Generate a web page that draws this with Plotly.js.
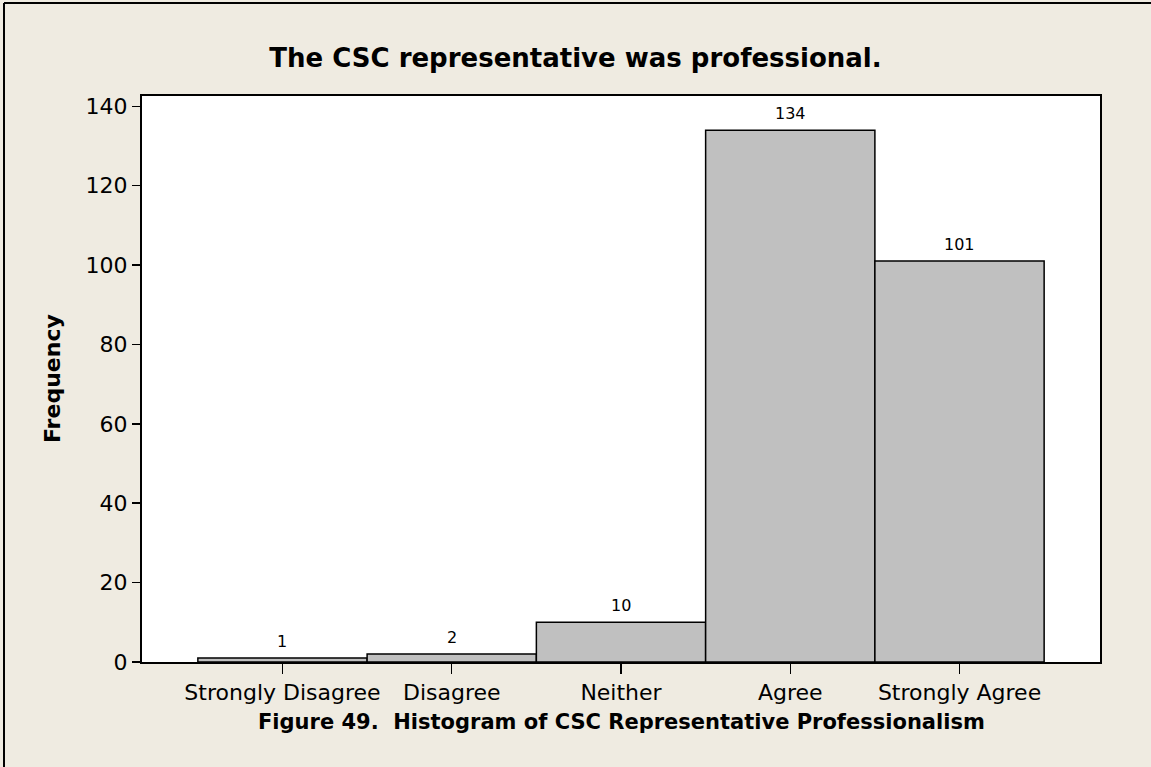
<!DOCTYPE html>
<html>
<head>
<meta charset="utf-8">
<script src="https://cdn.plot.ly/plotly-3.0.1.min.js"></script>
<style>html,body{margin:0;padding:0;background:#EFEBE1;}#chart{width:1151px;height:767px;}</style>
</head>
<body>
<div id="chart"></div>
<script>
const categories = ["Strongly Disagree", "Disagree", "Neither", "Agree", "Strongly Agree"];
const frequencies = [1, 2, 10, 134, 101];
const yTicks = [0, 20, 40, 60, 80, 100, 120, 140];
const chartTitle = "The CSC representative was professional.";
const xTitle = "Figure 49.&nbsp;&nbsp;Histogram of CSC Representative Professionalism";
const yTitle = "Frequency";

const FONT = "DejaVu Sans, Verdana, sans-serif";

const trace = {
  type: "bar",
  x: categories,
  y: frequencies,
  marker: { color: "#C0C0C0", line: { color: "#000000", width: 1.5 } },
  hoverinfo: "x+y"
};

const barLabels = categories.map((c, i) => ({
  x: c, y: frequencies[i], xref: "x", yref: "y",
  text: String(frequencies[i]), showarrow: false,
  yanchor: "bottom", yshift: 5,
  font: { family: FONT, size: 16, color: "#000" }
}));

const layout = {
  width: 1151, height: 767,
  margin: { l: 142, r: 51, t: 96, b: 105 },
  paper_bgcolor: "#EFEBE1",
  plot_bgcolor: "#FFFFFF",
  bargap: 0,
  showlegend: false,
  title: {
    text: "<b>" + chartTitle + "</b>",
    font: { family: FONT, size: 26, color: "#000" },
    x: 0.5, xref: "container", xanchor: "center",
    y: 1 - 58 / 767, yref: "container", yanchor: "middle"
  },
  xaxis: {
    type: "category",
    range: [-0.83, 4.83],
    showline: true, mirror: true, linecolor: "#000", linewidth: 2,
    ticks: "outside", ticklen: 10, tickwidth: 1.5, tickcolor: "#000",
    tickfont: { family: FONT, size: 22, color: "#000" },
    showgrid: false, zeroline: false, fixedrange: true
  },
  yaxis: {
    range: [0, 142.6],
    tickvals: yTicks,
    showline: true, mirror: true, linecolor: "#000", linewidth: 2,
    ticks: "outside", ticklen: 8, tickwidth: 1.5, tickcolor: "#000",
    tickfont: { family: FONT, size: 22, color: "#000" },
    showgrid: false, zeroline: false, fixedrange: true
  },
  annotations: barLabels.concat([
    {
      text: "<b>" + xTitle + "</b>", showarrow: false,
      xref: "paper", yref: "paper", x: 0.5, y: (662 - 722) / 566,
      xanchor: "center", yanchor: "middle",
      font: { family: FONT, size: 21, color: "#000" }
    },
    {
      text: "<b>" + yTitle + "</b>", showarrow: false, textangle: -90,
      xref: "paper", yref: "paper", x: (52 - 142) / 958, y: 0.5,
      xanchor: "center", yanchor: "middle",
      font: { family: FONT, size: 22, color: "#000" }
    }
  ]),
  shapes: [
    { type: "line", xref: "paper", yref: "paper",
      x0: (4 - 142) / 958, x1: (4 - 142) / 958, y0: (662 - 3) / 566, y1: (662 - 770) / 566,
      line: { color: "#000", width: 2 } },
    { type: "line", xref: "paper", yref: "paper",
      x0: (4 - 142) / 958, x1: (1155 - 142) / 958, y0: (662 - 3) / 566, y1: (662 - 3) / 566,
      line: { color: "#000", width: 2 } }
  ]
};

Plotly.newPlot("chart", [trace], layout, { displayModeBar: false, staticPlot: true });
</script>
</body>
</html>
